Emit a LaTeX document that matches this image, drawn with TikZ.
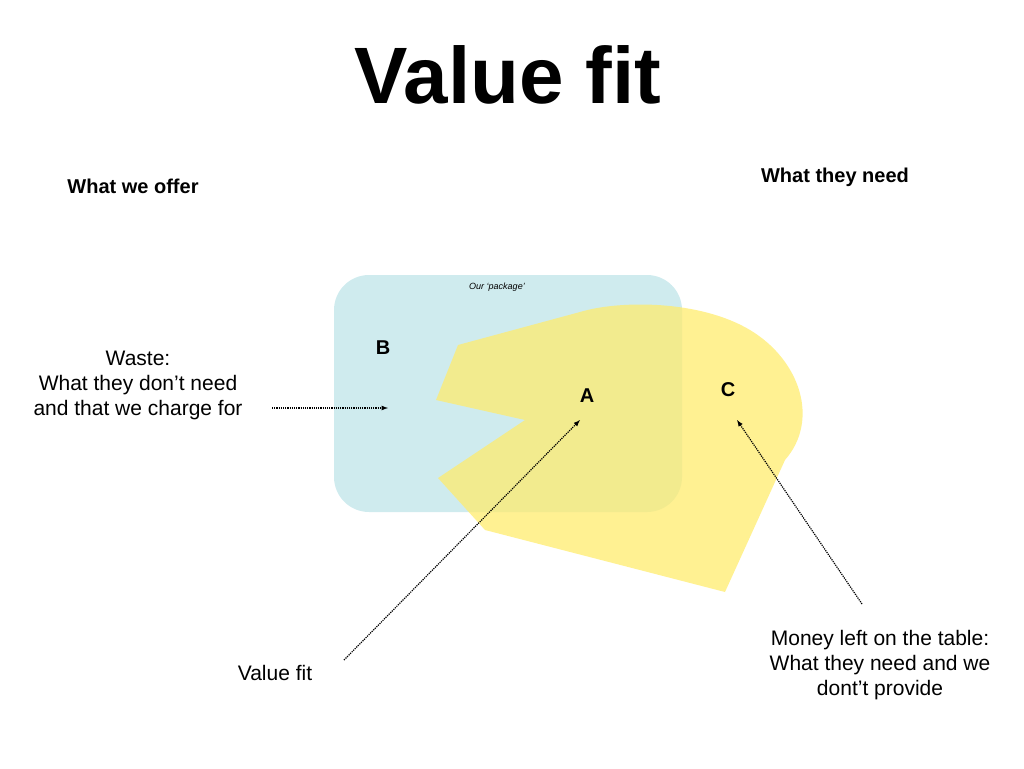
\documentclass[tikz,border=0pt]{standalone}
\usepackage{fontspec}
\setmainfont{Liberation Sans}
\begin{document}
\begin{tikzpicture}[x=1pt,y=-1pt,
  lbl/.style={font=\fontsize{21}{25}\selectfont,align=center},
  hd/.style={font=\bfseries\fontsize{20}{24}\selectfont},
  ltr/.style={font=\bfseries\fontsize{20}{24}\selectfont},
  arr/.style={densely dotted,line width=1.2pt,-latex}]
\useasboundingbox (0,0) rectangle (1024,768);
\definecolor{bl}{RGB}{207,235,238}
\definecolor{yl}{RGB}{255,236,110}
\fill[bl,rounded corners=35] (334,275) rectangle (682,512);
\fill[yl,opacity=0.75] (458,345) -- (580,312) .. controls (620,300) and (700,300) .. (750,330)
  .. controls (800,360) and (820,420) .. (785,460) -- (725,592) -- (485,530) -- (438,478)
  -- (525,420) -- (436,400) -- cycle;
\node[font=\bfseries\fontsize{80}{90}\selectfont] (t) at (508,75) {Value fit};
\node[hd] (o) at (133,186) {What we offer};
\node[hd] (n) at (835,177) {What they need};
\node[font=\itshape\fontsize{9}{11}\selectfont] (p) at (497,287) {Our ‘package’};
\node[ltr] (b) at (383,348) {B};
\node[ltr] (a) at (587,396) {A};
\node[ltr] (c) at (728,390) {C};
\node[lbl] (w) at (138,385) {Waste:\\What they don’t need\\and that we charge for};
\node[lbl] (v) at (275,673) {Value fit};
\node[lbl] (m) at (880,665) {Money left on the table:\\What they need and we\\dont’t provide};
\coordinate (w1) at (272,408); \coordinate (w2) at (388,408);
\coordinate (v1) at (344,660); \coordinate (v2) at (580,420);
\coordinate (m1) at (862,604); \coordinate (m2) at (737,420);
\draw[arr] (w1) -- (w2);
\draw[arr] (v1) -- (v2);
\draw[arr] (m1) -- (m2);
\end{tikzpicture}
\end{document}
